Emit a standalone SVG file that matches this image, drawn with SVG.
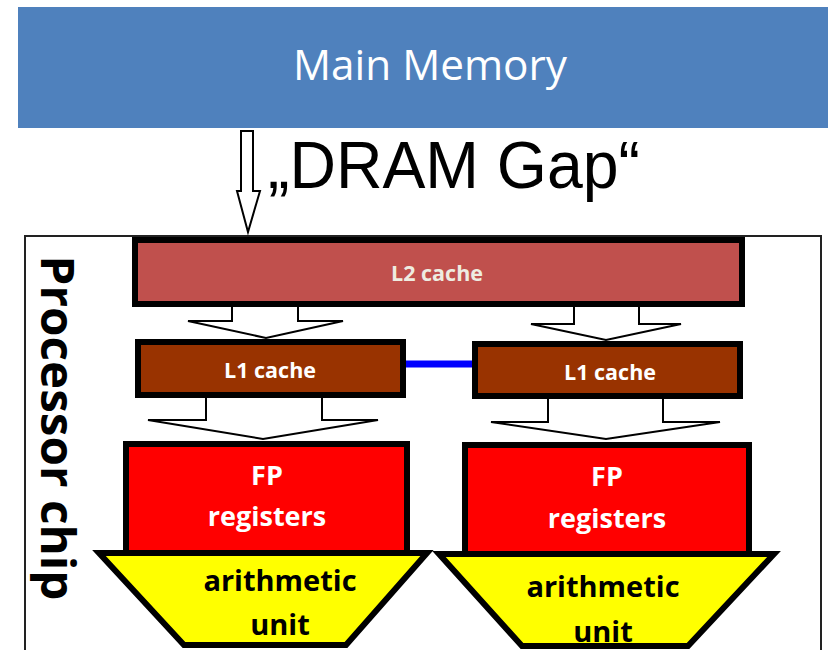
<svg xmlns="http://www.w3.org/2000/svg" width="828" height="650" viewBox="0 0 828 650">
<style>
.blk{fill:#fff;stroke:#000;stroke-width:2;stroke-linejoin:miter}
.box{stroke:#000;stroke-width:6}
.lbl{font-family:"Open Sans","Liberation Sans",sans-serif;font-weight:bold;text-anchor:middle}
</style>
<rect width="828" height="650" fill="#fff"/>
<g id="main-memory">
<rect x="18" y="7" width="810" height="121" fill="#4F81BD"/>
<text x="430" y="80" font-family="'Open Sans','Liberation Sans',sans-serif" font-size="42" fill="#fff" text-anchor="middle" textLength="274" lengthAdjust="spacingAndGlyphs">Main Memory</text>
</g>
<g id="dram-gap">
<text x="268" y="188" font-family="'Liberation Sans',Arial,sans-serif" font-size="66" fill="#000" textLength="372" lengthAdjust="spacingAndGlyphs">„DRAM Gap“</text>
</g>
<g id="processor-chip">
<rect x="25" y="236" width="796" height="430" fill="none" stroke="#222" stroke-width="2"/>
<text transform="translate(41,428) rotate(90)" class="lbl" font-size="46" fill="#000" textLength="345" lengthAdjust="spacingAndGlyphs">Processor chip</text>
</g>
<g id="connectors">
<polygon class="blk" stroke-width="1.5" points="241,131 253,131 253,191 260,191 248,232 237,191 241,191"/>
<polygon class="blk" points="232,305 298,305 298,321 343,321 266,338 188,321 232,321"/>
<polygon class="blk" points="574,305 639,305 639,324 681,324 606,340 531,324 574,324"/>
<polygon class="blk" points="206,397 322,397 322,420 378,420 263,439 148,420 206,420"/>
<polygon class="blk" points="548,398 663,398 663,422 720,422 606,439 491,422 548,422"/>
<line x1="402" y1="364" x2="472" y2="364" stroke="#0000FF" stroke-width="7"/>
</g>
<g id="l2-cache">
<rect class="box" x="135" y="240" width="607" height="64" fill="#C0504D"/>
<text class="lbl" x="437" y="281" font-size="21.5" fill="#EEECE1">L2 cache</text>
</g>
<g id="l1-cache-left">
<rect class="box" x="138" y="342" width="265" height="53" fill="#993300"/>
<text class="lbl" x="270" y="378" font-size="21.5" fill="#fff">L1 cache</text>
</g>
<g id="l1-cache-right">
<rect class="box" x="475" y="344" width="265" height="52" fill="#993300"/>
<text class="lbl" x="610" y="380" font-size="21.5" fill="#fff">L1 cache</text>
</g>
<g id="fp-registers-left">
<rect class="box" x="126" y="444" width="281" height="110" fill="#FF0000"/>
<text class="lbl" x="267" y="485" font-size="27" fill="#fff">FP</text>
<text class="lbl" x="267" y="526" font-size="27" fill="#fff">registers</text>
</g>
<g id="fp-registers-right">
<rect class="box" x="465" y="445" width="284" height="109" fill="#FF0000"/>
<text class="lbl" x="607" y="486" font-size="27" fill="#fff">FP</text>
<text class="lbl" x="607" y="528" font-size="27" fill="#fff">registers</text>
</g>
<g id="arithmetic-unit-left">
<polygon class="box" fill="#FFFF00" points="99,553 427,553 346,645 184,645"/>
<text class="lbl" x="280" y="591" font-size="29" fill="#000">arithmetic</text>
<text class="lbl" x="280" y="635" font-size="29" fill="#000">unit</text>
</g>
<g id="arithmetic-unit-right">
<polygon class="box" fill="#FFFF00" points="439,554 774,554 688,646 522,646"/>
<text class="lbl" x="603" y="597" font-size="29" fill="#000">arithmetic</text>
<text class="lbl" x="603" y="642" font-size="29" fill="#000">unit</text>
</g>
</svg>
